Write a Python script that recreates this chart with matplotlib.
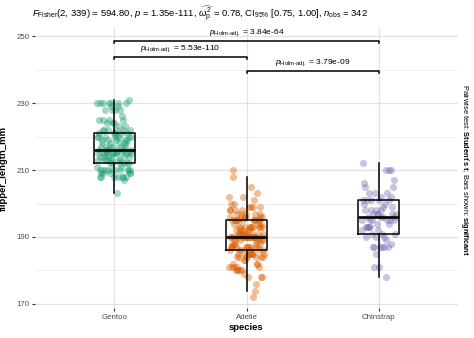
import numpy as np
import matplotlib
matplotlib.use("Agg")
import matplotlib.pyplot as plt

plt.rcParams['font.family'] = ['Liberation Sans', 'DejaVu Sans']
plt.rcParams['mathtext.fontset'] = 'custom'
plt.rcParams['mathtext.rm'] = 'Liberation Sans'
plt.rcParams['mathtext.it'] = 'Liberation Sans:italic'
plt.rcParams['mathtext.bf'] = 'Liberation Sans:bold'

# flipper length (mm) per species, palmer penguins
species = ["Gentoo", "Adelie", "Chinstrap"]
colors = ["#1B9E77", "#D95F02", "#7570B3"]

gentoo = [211, 230, 210, 218, 215, 210, 211, 219, 209, 215,
          214, 216, 214, 213, 210, 217, 210, 221, 209, 222,
          218, 215, 213, 215, 215, 215, 216, 215, 210, 220,
          222, 209, 207, 230, 220, 220, 213, 219, 208, 208,
          208, 225, 210, 216, 222, 217, 210, 225, 213, 215,
          210, 220, 210, 225, 217, 220, 208, 220, 208, 224,
          208, 221, 214, 231, 219, 230, 214, 229, 220, 223,
          216, 221, 221, 217, 216, 230, 209, 220, 215, 223,
          212, 221, 212, 224, 212, 228, 218, 218, 212, 230,
          218, 228, 212, 224, 214, 226, 216, 222, 203, 225,
          219, 228, 215, 228, 216, 215, 210, 219, 208, 209,
          216, 229, 213, 230, 217, 230, 217, 222, 214, 215,
          222, 212, 213]
adelie = [181, 186, 195, 193, 190, 181, 195, 193, 190, 186,
          180, 182, 191, 198, 185, 195, 197, 184, 194, 174,
          180, 189, 185, 180, 187, 183, 187, 172, 180, 178,
          178, 188, 184, 195, 196, 190, 180, 181, 184, 182,
          195, 186, 196, 185, 190, 182, 179, 190, 191, 186,
          188, 190, 200, 187, 191, 186, 193, 181, 194, 185,
          195, 185, 192, 184, 192, 195, 188, 190, 198, 190,
          190, 196, 197, 190, 195, 191, 184, 187, 195, 189,
          196, 187, 193, 191, 194, 190, 189, 189, 190, 202,
          205, 185, 186, 187, 208, 190, 196, 178, 192, 192,
          203, 183, 190, 193, 184, 199, 190, 181, 197, 198,
          191, 193, 197, 191, 196, 188, 199, 189, 189, 187,
          198, 176, 202, 186, 199, 191, 195, 191, 210, 190,
          197, 193, 199, 187, 190, 191, 200, 185, 193, 193,
          187, 188, 190, 192, 185, 190, 184, 195, 193, 187,
          201]
chinstrap = [192, 196, 193, 188, 197, 198, 178, 197, 195, 198,
             193, 194, 185, 201, 190, 201, 197, 181, 190, 195,
             181, 191, 187, 193, 195, 197, 200, 200, 191, 205,
             187, 201, 187, 203, 195, 199, 195, 210, 192, 205,
             210, 187, 196, 196, 196, 201, 190, 212, 187, 198,
             199, 201, 193, 203, 187, 197, 191, 203, 202, 194,
             206, 189, 195, 207, 202, 193, 210, 198]
groups = [gentoo, adelie, chinstrap]

# pairwise comparisons: (group a, group b, bar height, label)
pairs = [(1, 2, 243.8, "5.53e-110"),
         (1, 3, 248.5, "3.84e-64"),
         (2, 3, 239.5, "3.79e-09")]

title = (r"$\mathit{F}_{\mathrm{Fisher}}$(2, 339) = 594.80, $\mathit{p}$ = 1.35e-111, "
         r"$\widehat{\omega_{\mathrm{p}}^2}$ = 0.78, CI$_{95\%}$ [0.75, 1.00], "
         r"$\mathit{n}_{\mathrm{obs}}$ = 342")

fig = plt.figure(figsize=(4.74, 3.38), dpi=100)
ax = fig.add_axes([35 / 474, 1 - 308 / 338, 423 / 474, 280 / 338])

for i, vals in enumerate(groups):
    pos = i + 1
    n = len(vals)
    # spread points sideways so they don't overlap
    offs = ((np.arange(n) * 0.618034) % 1 - 0.5) * 0.26
    ax.scatter(pos + offs, vals, s=26, color=colors[i], alpha=0.4,
               linewidths=0, zorder=2)

ax.boxplot(groups, positions=[1, 2, 3], widths=0.31, showfliers=False,
           showcaps=False, whis=1.5, patch_artist=False,
           boxprops=dict(color="black", linewidth=1.1),
           whiskerprops=dict(color="black", linewidth=1.1),
           medianprops=dict(color="black", linewidth=1.9), zorder=3)

for a, b, h, lab in pairs:
    ax.plot([a, a, b, b], [h - 0.6, h, h, h - 0.6], color="black",
            linewidth=1.1, zorder=4)
    ax.text((a + b) / 2, h + 0.9,
            "$\\mathit{p}_{\\mathrm{Holm\u2010adj.}}$ = " + lab,
            ha="center", va="bottom", fontsize=6)

ax.set_xlim(0.4, 3.6)
ax.set_ylim(168.8, 252.4)
ax.set_xticks([1, 2, 3])
ax.set_xticklabels(species)
ax.set_yticks([170, 190, 210, 230, 250])
ax.set_yticks([180, 200, 220, 240], minor=True)
ax.tick_params(axis="both", which="major", labelsize=5.7, labelcolor="#4D4D4D",
               color="#333333", length=2, width=0.8, pad=2)
ax.tick_params(axis="y", which="minor", length=0)
ax.grid(True, which="major", color="#E2E2E2", linewidth=0.9, zorder=0)
ax.grid(True, which="minor", axis="y", color="#EBEBEB", linewidth=0.6, zorder=0)
ax.set_axisbelow(True)
for sp in ax.spines.values():
    sp.set_visible(False)

ax.set_xlabel("species", fontsize=6.8, fontweight="bold")
ax.xaxis.set_label_coords(0.5, -0.054)
ax.set_ylabel("flipper_length_mm", fontsize=6.8, fontweight="bold")
ax.yaxis.set_label_coords(-0.064, 0.5)

fig.text(32 / 474, 1 - 14 / 338, title, ha="left", va="center", fontsize=6.8)

fig.text(464 / 474, 1 - 170 / 338,
         r"Pairwise test: $\mathbf{Student's\ t}$; Bars shown: $\mathbf{significant}$",
         rotation=270, ha="center", va="center", fontsize=5.4)

fig.savefig("out.png", dpi=100, facecolor="white")
